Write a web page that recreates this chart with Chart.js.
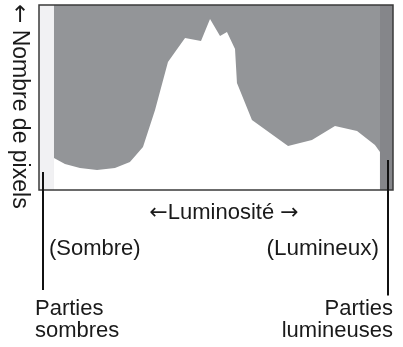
<!DOCTYPE html>
<html>
<head>
<meta charset="utf-8">
<script src="https://cdn.jsdelivr.net/npm/chart.js@4"></script>
<style>
  body { margin: 0; background: white; }
</style>
</head>
<body>
<canvas id="histo" width="403" height="347"></canvas>
<script>
// luminance (0-255) and relative pixel count (% of the tallest column)
const luminance = [10.8, 18.7, 29.5, 41.8, 54.7, 65.5, 69.9, 74.9, 83.6, 92.9, 98, 105.2, 116.7, 123.2, 130.4, 135.4, 141.2, 142.6, 153.4, 166.4, 179.4, 196.6, 213.2, 229.1, 242, 245.6];
const pixelCount = [17.3, 14.1, 11.9, 10.8, 11.9, 15.1, 18.9, 23.2, 43.2, 69.2, 74.6, 82.2, 80.5, 92.4, 83.2, 85.4, 76.2, 57.8, 37.8, 30.8, 23.8, 27, 34.6, 31.9, 24.3, 20.5];

// clipped zones at both ends of the range
const darkZone = [0, 10.8];
const brightZone = [245.6, 255];

// pointer lines: luminance, top value, bottom value
const darkPointer = [2.9, 9.7, -54];
const brightPointer = [251.4, 16.2, -57];

const ctx = document.getElementById('histo');

function band(range, top) {
    return [{ x: range[0], y: top }, { x: range[1], y: top }];
}

// draws a line of text made of runs, arrows come from DejaVu (longer glyphs)
function drawRuns(c, runs, x, y, align, size) {
    size = size || 22;
    const textFont = size + 'px "Liberation Sans", Arial, sans-serif';
    const arrowFont = size + 'px "DejaVu Sans", sans-serif';
    let total = 0;
    runs.forEach(r => {
        c.font = r.arrow ? arrowFont : textFont;
        r.w = c.measureText(r.t).width;
        total += r.w;
    });
    let cx = x;
    if (align === 'center') cx = x - total / 2;
    if (align === 'right') cx = x - total;
    c.textAlign = 'left';
    runs.forEach(r => {
        c.font = r.arrow ? arrowFont : textFont;
        c.fillText(r.t, cx, y);
        cx += r.w;
    });
}

const decorations = {
    id: 'decorations',
    afterDraw(chart) {
        const c = chart.ctx;
        const a = chart.chartArea;
        const xs = chart.scales.x;
        const ys = chart.scales.y;

        c.save();
        c.strokeStyle = '#3a3a3a';
        c.lineWidth = 1.5;
        c.strokeRect(a.left, a.top, a.right - a.left, a.bottom - a.top);

        c.strokeStyle = '#111';
        c.lineWidth = 2;
        [darkPointer, brightPointer].forEach(p => {
            const x = Math.round(xs.getPixelForValue(p[0]));
            c.beginPath();
            c.moveTo(x, ys.getPixelForValue(p[1]));
            c.lineTo(x, ys.getPixelForValue(p[2]));
            c.stroke();
        });

        c.fillStyle = '#1a1a1a';
        c.textBaseline = 'middle';

        drawRuns(c, [{ t: '\u2190', arrow: true }, { t: 'Luminosit\u00e9 ' }, { t: '\u2192', arrow: true }], 224, 213, 'center');

        drawRuns(c, [{ t: '(Sombre)' }], 49, 249, 'left');
        drawRuns(c, [{ t: 'Parties' }], 35, 309, 'left');
        drawRuns(c, [{ t: 'sombres' }], 35, 331, 'left');

        drawRuns(c, [{ t: '(Lumineux)' }], 379, 249, 'right', 22.5);
        drawRuns(c, [{ t: 'Parties' }], 393, 309, 'right');
        drawRuns(c, [{ t: 'lumineuses' }], 393, 331, 'right');

        c.translate(19, 4);
        c.rotate(Math.PI / 2);
        drawRuns(c, [{ t: '\u2190', arrow: true }, { t: ' Nombre de pixels' }], 0, 0, 'left', 23);
        c.restore();
    }
};

new Chart(ctx, {
    type: 'line',
    data: {
        datasets: [
            {
                data: band(darkZone, 100),
                backgroundColor: '#f1f1f3',
                fill: 'origin',
                borderWidth: 0,
                pointRadius: 0
            },
            {
                data: band(brightZone, 100),
                backgroundColor: '#85868a',
                fill: 'origin',
                borderWidth: 0,
                pointRadius: 0
            },
            {
                data: luminance.map((l, i) => ({ x: l, y: pixelCount[i] })),
                backgroundColor: '#ffffff',
                fill: 'origin',
                borderWidth: 0,
                pointRadius: 0,
                tension: 0
            },
            {
                data: band([0, 255], 100),
                backgroundColor: '#939598',
                fill: 'origin',
                borderWidth: 0,
                pointRadius: 0
            }
        ]
    },
    options: {
        responsive: false,
        animation: false,
        layout: {
            padding: { left: 39, top: 5, right: 10, bottom: 157 }
        },
        plugins: {
            legend: { display: false },
            tooltip: { enabled: false }
        },
        scales: {
            x: { type: 'linear', min: 0, max: 255, display: false },
            y: { min: 0, max: 100, display: false }
        }
    },
    plugins: [decorations]
});
</script>
</body>
</html>
